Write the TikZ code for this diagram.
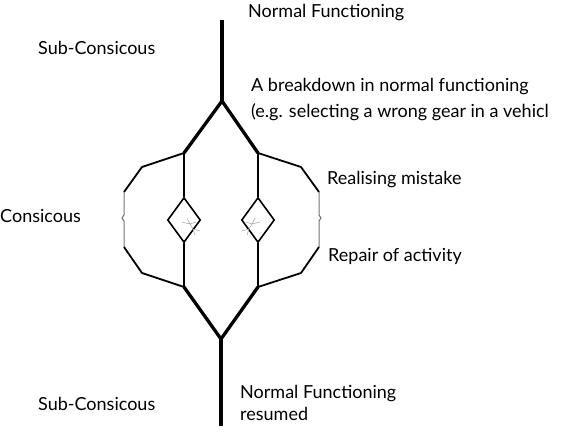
\documentclass[tikz,border=0pt]{standalone}
\usepackage{fontspec}
\setmainfont{Lato}
\usetikzlibrary{shapes.geometric}

\begin{document}
\begin{tikzpicture}[x=1pt,y=-1pt,
  lbl/.style={font=\fontsize{18}{20}\selectfont,anchor=base west,inner sep=0pt},
  trunk/.style={line width=4.6pt},
  fork/.style={line width=3.3pt,line join=miter},
  stem/.style={line width=2.4pt},
  loopline/.style={line width=1.8pt,line join=round},
  seam/.style={line width=1pt,black!55},
  twig/.style={line width=0.5pt,black!35},
  check/.style={draw,diamond,line width=1.6pt,minimum width=33pt,minimum height=45pt,inner sep=0pt}]
  \useasboundingbox (0,0) rectangle (562,436);
  % junctions of the main line
  \coordinate (top) at (222,20); \coordinate (split) at (222,101);
  \coordinate (lu) at (184,153); \coordinate (ru) at (258,153);
  \coordinate (ld) at (184,287); \coordinate (rd) at (258,287);
  \coordinate (join) at (221,339); \coordinate (bot) at (221,426);
  \node[check] (dl) at (184,220) {};
  \node[check] (dr) at (258,220) {};
  % trunk and fork
  \draw[trunk] (top) -- (split);
  \draw[fork] (lu) -- (split) -- (ru);
  \draw[fork] (ld) -- (join) -- (rd);
  \draw[trunk] (join) -- (bot);
  \draw[stem] (lu) -- (dl.north); \draw[stem] (dl.south) -- (ld);
  \draw[stem] (ru) -- (dr.north); \draw[stem] (dr.south) -- (rd);
  % outer loops (left and right)
  \draw[loopline] (lu) -- (142,167) -- (124,192);
  \draw[seam] (124,192) -- (124,215) -- (122,218) -- (124,221) -- (124,247);
  \draw[loopline] (124,247) -- (142,273) -- (ld);
  \draw[loopline] (ru) -- (301,167) -- (319,192);
  \draw[seam] (319,192) -- (319,215) -- (321,218) -- (319,221) -- (319,247);
  \draw[loopline] (319,247) -- (301,273) -- (rd);
  % faint scribbles in the diamonds
  \draw[twig] (182,222) -- (190,224) -- (196,222) (190,224) -- (193,229) -- (200,231) (193,229) -- (195,235) (187,218) -- (190,224);
  \draw[twig] (260,222) -- (252,224) -- (246,222) (252,224) -- (249,229) -- (242,231) (249,229) -- (247,235) (255,218) -- (252,224);
  % labels
  \node[lbl] (nf) at (248,18) {Normal Functioning};
  \node[lbl] (subtop) at (38,55) {Sub-Consicous};
  \node[lbl] (brk) at (251,91) {A breakdown in normal functioning};
  \node[lbl] (eg) at (251,117) {(e.g. selecting a wrong gear in a vehicl};
  \node[lbl] (con) at (0,222) {Consicous};
  \node[lbl] (real) at (327,184) {Realising mistake};
  \node[lbl] (rep) at (328,261) {Repair of activity};
  \node[lbl] (subbot) at (38,410) {Sub-Consicous};
  \node[lbl] (nfr) at (240,398) {Normal Functioning};
  \node[lbl] (res) at (240,420) {resumed};
\end{tikzpicture}
\end{document}
